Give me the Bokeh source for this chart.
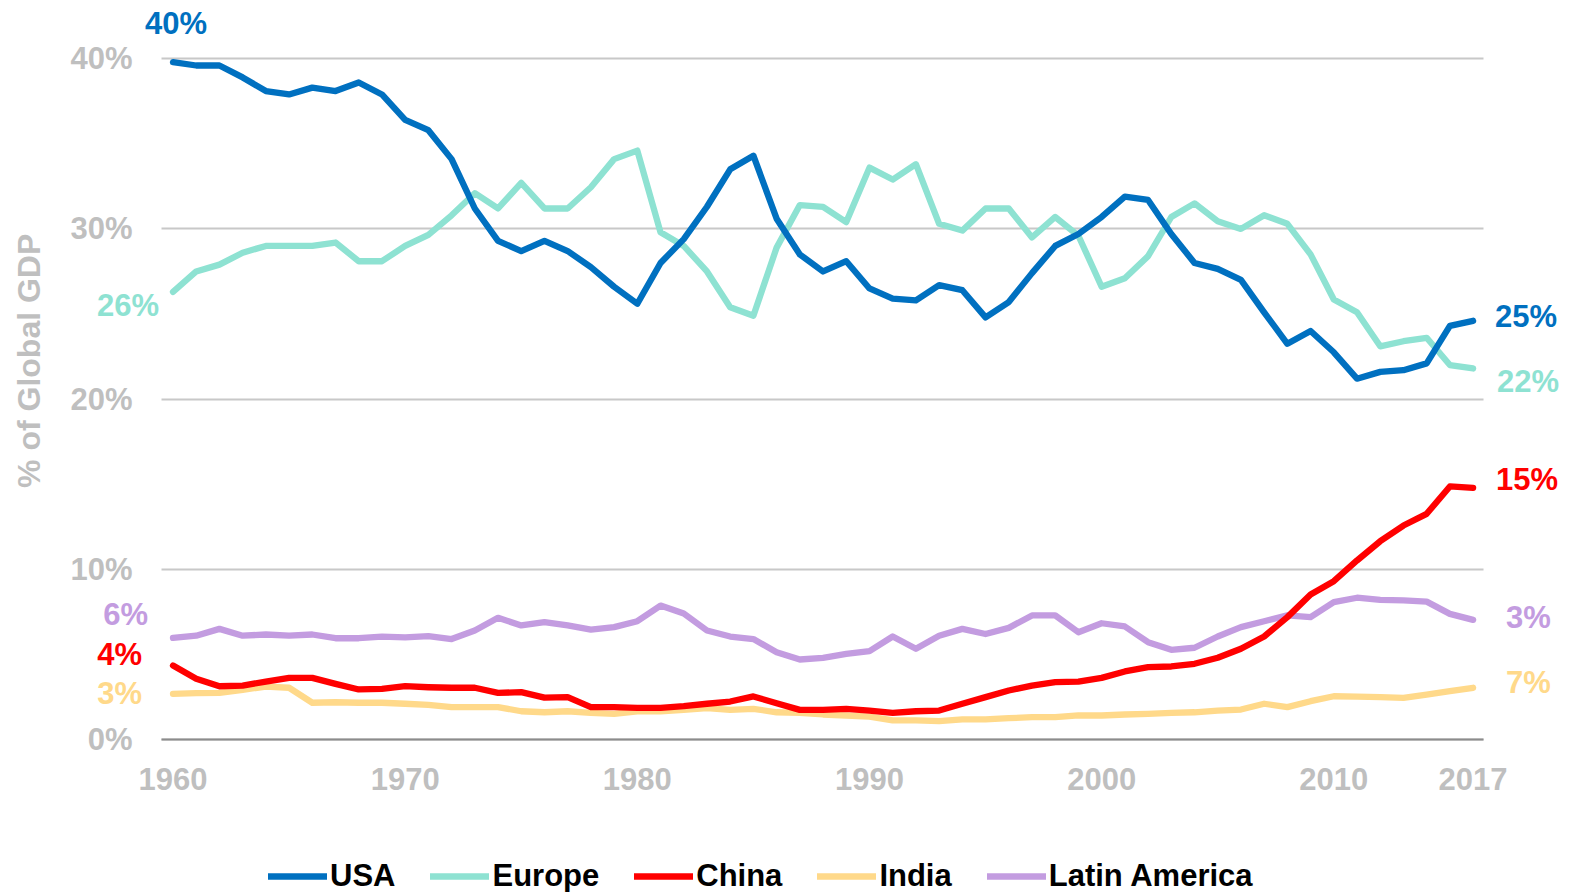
import math
from bokeh.plotting import figure
from bokeh.models import (Label, Legend, LegendItem, FixedTicker, Range1d,
                          PrintfTickFormatter)
from bokeh.embed import file_html
from bokeh.resources import INLINE

# ---------------- data ----------------
years = list(range(1960, 2017))          # 57 yearly points, last one labelled "2017"
tick_years = [1960, 1970, 1980, 1990, 2000, 2010, 2016]
tick_labels = ["1960", "1970", "1980", "1990", "2000", "2010", "2017"]
y_ticks = [0, 10, 20, 30, 40]

usa = [39.8, 39.6, 39.6, 38.9, 38.1, 37.9, 38.3, 38.1, 38.6, 37.9,
       36.4, 35.8, 34.1, 31.2, 29.3, 28.7, 29.3, 28.7, 27.75, 26.6,
       25.6, 28.0, 29.4, 31.3, 33.5, 34.3, 30.6, 28.5, 27.5, 28.1,
       26.5, 25.9, 25.8, 26.7, 26.4, 24.8, 25.7, 27.4, 29.0, 29.7,
       30.7, 31.9, 31.7, 29.7, 28.0, 27.65, 27.0, 25.1, 23.25, 24.0,
       22.75, 21.2, 21.6, 21.7, 22.1, 24.3, 24.6]
europe = [26.3, 27.5, 27.9, 28.6, 29.0, 29.0, 29.0, 29.2, 28.1, 28.1,
          29.0, 29.65, 30.8, 32.1, 31.2, 32.7, 31.2, 31.2, 32.45, 34.1,
          34.6, 29.8, 29.0, 27.5, 25.4, 24.9, 28.9, 31.4, 31.3, 30.4,
          33.6, 32.9, 33.8, 30.3, 29.9, 31.2, 31.2, 29.5, 30.7, 29.6,
          26.6, 27.1, 28.4, 30.7, 31.5, 30.45, 30.0, 30.8, 30.3, 28.5,
          25.85, 25.1, 23.1, 23.4, 23.6, 22.0, 21.8]
china = [4.35, 3.57, 3.13, 3.17, 3.4, 3.62, 3.62, 3.27, 2.94, 2.98,
         3.13, 3.07, 3.04, 3.04, 2.74, 2.78, 2.46, 2.49, 1.9, 1.9,
         1.86, 1.86, 1.96, 2.1, 2.23, 2.53, 2.13, 1.74, 1.74, 1.8,
         1.7, 1.57, 1.66, 1.7, 2.1, 2.49, 2.88, 3.17, 3.37, 3.4,
         3.62, 4.0, 4.25, 4.29, 4.45, 4.8, 5.33, 6.05, 7.19, 8.52,
         9.3, 10.52, 11.65, 12.57, 13.26, 14.87, 14.79]
india = [2.68, 2.72, 2.74, 2.92, 3.11, 3.04, 2.16, 2.19, 2.16, 2.16,
         2.1, 2.04, 1.9, 1.9, 1.9, 1.66, 1.6, 1.66, 1.57, 1.51,
         1.66, 1.66, 1.74, 1.84, 1.74, 1.8, 1.6, 1.57, 1.47, 1.41,
         1.35, 1.12, 1.12, 1.08, 1.18, 1.18, 1.25, 1.31, 1.31, 1.42,
         1.41, 1.47, 1.51, 1.57, 1.6, 1.7, 1.76, 2.1, 1.9, 2.25,
         2.54, 2.52, 2.49, 2.45, 2.64, 2.84, 3.04]
latam = [5.97, 6.1, 6.5, 6.1, 6.17, 6.1, 6.17, 5.95, 5.95, 6.05,
         6.0, 6.07, 5.9, 6.4, 7.15, 6.7, 6.9, 6.7, 6.45, 6.6,
         6.95, 7.87, 7.4, 6.4, 6.05, 5.9, 5.13, 4.7, 4.8, 5.03,
         5.19, 6.05, 5.33, 6.1, 6.5, 6.2, 6.56, 7.29, 7.29, 6.3,
         6.83, 6.64, 5.72, 5.27, 5.39, 6.05, 6.6, 6.95, 7.29, 7.19,
         8.07, 8.33, 8.2, 8.17, 8.1, 7.38, 7.03]

series_names = ["USA", "Europe", "China", "India", "Latin America"]
start_labels = ["40%", "26%", "4%", "3%", "6%"]
end_labels = ["25%", "22%", "15%", "7%", "3%"]
y_title = "% of Global GDP"

# ---------------- styles / layout ----------------
colors = {"USA": "#0070C0", "Europe": "#8EE2D2", "China": "#FF0000",
          "India": "#FFD98A", "Latin America": "#C39CE0"}
values = {"USA": usa, "Europe": europe, "China": china,
          "India": india, "Latin America": latam}
start_pos = {"USA": ("center", 3, 39), "Europe": ("right", -14, -14),
             "China": ("right", -31, 11), "India": ("right", -31, 0),
             "Latin America": ("right", -25, 23)}
end_pos = {"USA": (22, 4), "Europe": (24, -13), "China": (23, 8),
           "India": (33, 5), "Latin America": (33, 2)}
FONT = "Liberation Sans"
GRAY = "#BFBFBF"
FS = "31px"

W, H = 1573, 892
PX_YEAR = 23.216          # pixels per year
PX_PCT = 17.02            # pixels per percentage point
X0_PX, Y0_PX = 172.5, 739.0   # pixel position of first year / 0 %
x_lo = years[0] - X0_PX / PX_YEAR
y_lo = -(H - Y0_PX) / PX_PCT
grid_left = years[0] - 11.5 / PX_YEAR
grid_right = years[-1] + 10.4 / PX_YEAR

p = figure(width=W, height=H, output_backend="svg", toolbar_location=None,
           title=None,
           x_range=Range1d(x_lo, x_lo + W / PX_YEAR),
           y_range=Range1d(y_lo, y_lo + H / PX_PCT),
           min_border=0)
p.outline_line_color = None
p.background_fill_color = "white"
p.border_fill_color = "white"

# axes, fixed inside the frame
p.xaxis.fixed_location = 0
p.xaxis.bounds = (grid_left, grid_right)
p.xaxis.ticker = FixedTicker(ticks=tick_years)
p.xaxis.major_label_overrides = dict(zip(tick_years, tick_labels))
p.xaxis.axis_line_color = "#8C8C8C"
p.xaxis.axis_line_width = 2
p.xaxis.major_tick_line_color = None
p.xaxis.minor_tick_line_color = None
p.xaxis.major_tick_out = 0
p.xaxis.major_label_standoff = 28
p.xaxis.major_label_text_font = FONT
p.xaxis.major_label_text_font_style = "bold"
p.xaxis.major_label_text_font_size = FS
p.xaxis.major_label_text_color = GRAY

p.yaxis.fixed_location = grid_left
p.yaxis.ticker = FixedTicker(ticks=y_ticks)
p.yaxis.formatter = PrintfTickFormatter(format="%d%%")
p.yaxis.axis_line_color = None
p.yaxis.major_tick_line_color = None
p.yaxis.minor_tick_line_color = None
p.yaxis.major_tick_out = 0
p.yaxis.major_label_standoff = 29
p.yaxis.major_label_text_font = FONT
p.yaxis.major_label_text_font_style = "bold"
p.yaxis.major_label_text_font_size = FS
p.yaxis.major_label_text_color = GRAY

# y-axis title, centred a little above the middle of the tick span
p.add_layout(Label(x=28.5, x_units="screen", y=(y_ticks[0] + y_ticks[-1]) / 2 + 2.25,
                   text=y_title, angle=math.pi / 2, text_align="center",
                   text_baseline="middle", text_font=FONT, text_font_style="bold",
                   text_font_size="32px", text_color=GRAY))

p.xgrid.visible = False
p.ygrid.ticker = FixedTicker(ticks=y_ticks)
p.ygrid.grid_line_color = "#C8C8C8"
p.ygrid.grid_line_width = 2
try:
    p.ygrid.cross_bounds = (grid_left, grid_right)
except Exception:
    p.ygrid.visible = False
    p.segment(x0=[grid_left] * len(y_ticks), x1=[grid_right] * len(y_ticks),
              y0=y_ticks, y1=y_ticks, line_color="#C8C8C8", line_width=2)

# lines (drawing order)
renderers = {}
for name in ["India", "Latin America", "Europe", "China", "USA"]:
    renderers[name] = p.line(years, values[name], line_color=colors[name],
                             line_width=6.3, line_join="round", line_cap="round")

# direct labels
for name, lab0, lab1 in zip(series_names, start_labels, end_labels):
    v = values[name]
    al, xo, yo = start_pos[name]
    p.add_layout(Label(x=years[0], y=v[0], text=lab0, text_align=al,
                       text_baseline="middle", x_offset=xo, y_offset=yo,
                       text_color=colors[name], text_font=FONT,
                       text_font_style="bold", text_font_size=FS))
    xo, yo = end_pos[name]
    p.add_layout(Label(x=years[-1], y=v[-1], text=lab1, text_align="left",
                       text_baseline="middle", x_offset=xo, y_offset=yo,
                       text_color=colors[name], text_font=FONT,
                       text_font_style="bold", text_font_size=FS))

legend = Legend(items=[LegendItem(label=n, renderers=[renderers[n]]) for n in series_names],
                location=(268, -2), orientation="horizontal",
                glyph_width=59, glyph_height=32, label_height=32,
                label_standoff=3, spacing=35, padding=0, margin=0,
                border_line_color=None, background_fill_alpha=0,
                label_text_font=FONT, label_text_font_style="bold",
                label_text_font_size="31px", label_text_color="black")
p.add_layout(legend)

open("out.html", "w").write(file_html(p, INLINE))
